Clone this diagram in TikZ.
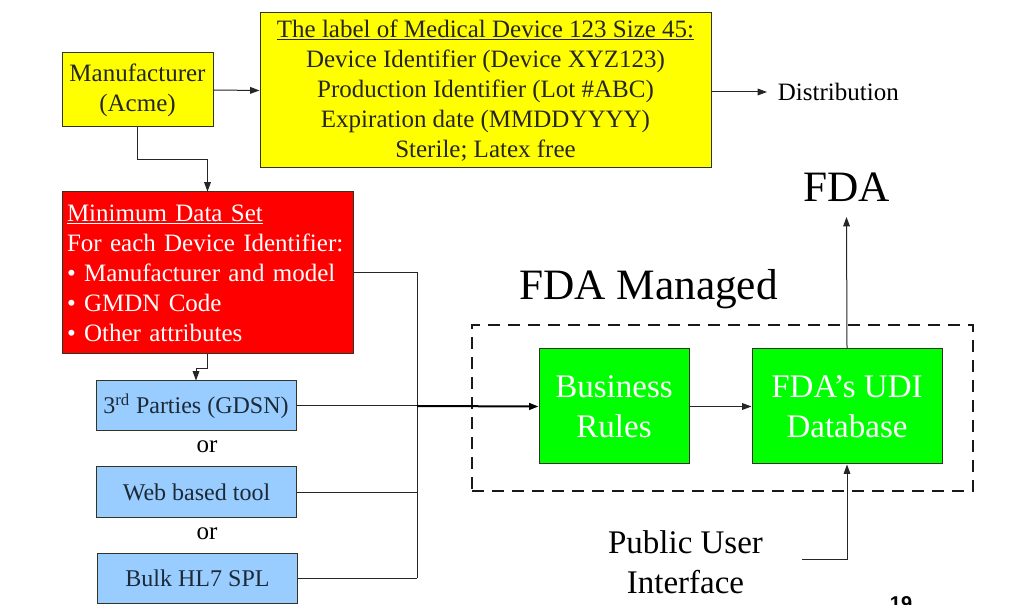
\documentclass[tikz,border=0pt]{standalone}
\usepackage{fontspec}
\setmainfont{Liberation Serif}
\newfontfamily\pgnumfont{Liberation Sans}
\usetikzlibrary{arrows.meta}
\definecolor{ylw}{HTML}{FFFF00}
\definecolor{rd}{HTML}{FF0000}
\definecolor{blu}{HTML}{99CCFF}
\definecolor{grn}{HTML}{00FF00}
\definecolor{navy}{HTML}{1C2A38}
\definecolor{edge}{HTML}{333322}
\newcommand{\fsA}{\fontsize{18.75}{22.5}\selectfont}
\newcommand{\fsB}{\fontsize{18}{22.5}\selectfont}
\newcommand{\fsC}{\fontsize{24.75}{30}\selectfont}
\newcommand{\fsD}{\fontsize{32.5}{39}\selectfont}
\tikzset{
  box/.style={draw=edge, line width=0.75pt, inner sep=0pt, align=center},
  ybox/.style={box, fill=ylw, font=\fsA, text=black!85},
  rbox/.style={box, fill=rd, font=\fsA, text=white},
  bbox/.style={box, fill=blu, font=\fsB, text=navy, minimum width=200*0.75pt, minimum height=50*0.75pt},
  gbox/.style={box, fill=grn, font=\fsC, text=white, minimum height=115*0.75pt},
  plain/.style={inner sep=0pt, align=center},
  conn/.style={draw=black!85, line width=0.75pt},
  arr/.style={conn, -{Triangle[length=7pt,width=5pt]}},
  thickarr/.style={draw=black, line width=1.5pt, -{Triangle[length=7pt,width=5pt]}},
  dashbox/.style={draw=black!90, line width=2.2pt, dash pattern=on 9pt off 6pt, inner sep=0pt}
}
\begin{document}
\begin{tikzpicture}[x=0.75pt,y=-0.75pt]
\useasboundingbox (0,0) rectangle (1024,605);
\clip (0,0) rectangle (1024,605);
\fill[white] (0,0) rectangle (1024,605);

% top row
\node[ybox, minimum width=151*0.75pt, minimum height=74*0.75pt] (man) at (137.5,90) {Manufacturer\\(Acme)};
\node[ybox, minimum width=451*0.75pt, minimum height=155*0.75pt] (lab) at (485.5,90.5)
  {\underline{The label of Medical Device 123 Size 45:}\\Device Identifier (Device XYZ123)\\Production Identifier (Lot \#ABC)\\Expiration date (MMDDYYYY)\\Sterile; Latex free};
\node[plain, font=\fsA, anchor=west, inner xsep=8pt] (dist) at (767,92) {Distribution};

% minimum data set
\node[rbox, minimum width=291*0.75pt, minimum height=162*0.75pt, align=left, text width=281*0.75pt, inner xsep=5*0.75pt] (mds) at (207.5,273)
  {\underline{Minimum Data Set}\\For each Device Identifier:\\\textbullet\ Manufacturer and model\\\textbullet\ GMDN Code\\\textbullet\ Other attributes};

% submission options
\node[bbox] (p3) at (196,406) {3\textsuperscript{rd} Parties (GDSN)};
\node[plain, font=\fsA] (or1) at (207,447) {or};
\node[bbox] (web) at (196.5,492) {Web based tool};
\node[plain, font=\fsA] (or2) at (207,534) {or};
\node[bbox] (bulk) at (197.5,578) {Bulk HL7 SPL};

% FDA managed
\node[dashbox, minimum width=501*0.75pt, minimum height=166*0.75pt] (mgd) at (722.5,408) {};
\node[plain, font=\fsD, anchor=base] (mgdlbl) at (648.5,300) {FDA Managed};
\node[gbox, minimum width=150*0.75pt] (br) at (614,406.5) {Business\\Rules};
\node[gbox, minimum width=190*0.75pt] (udi) at (847,406.5) {FDA’s UDI\\Database};
\node[plain, font=\fsD, anchor=base, inner ysep=11pt] (fda) at (846.5,202) {FDA};
\node[plain, font=\fsC] (pui) at (685.5,562) {Public User\\Interface};
\node[plain, font=\pgnumfont\fontsize{15}{18}\selectfont\bfseries, anchor=north] (pg) at (901,596) {19};

% connectors
\coordinate (bus) at (417,578);
\coordinate (puistart) at (802,559);
\draw[arr] (man.east) -- (lab.west);
\draw[arr] (lab.east |- dist.west) -- (dist.west);
\draw[arr] (man.south) -- ++(0,32) -| (mds.north);
\draw[arr] (mds.south) -- ++(0,14) -| (p3.north);
\draw[conn] (mds.east) -| (bus);
\draw[conn] (bulk.east) -- (bus);
\draw[conn] (web.east) -- (web.east -| bus);
\draw[conn] (p3.east) -- (p3.east -| bus);
\draw[thickarr] (p3.east -| bus) -- (br.west);
\draw[arr] (br.east) -- (udi.west);
\draw[arr] (udi.north) -- (fda.south);
\draw[arr] (puistart) -| (udi.south);
\end{tikzpicture}
\end{document}
